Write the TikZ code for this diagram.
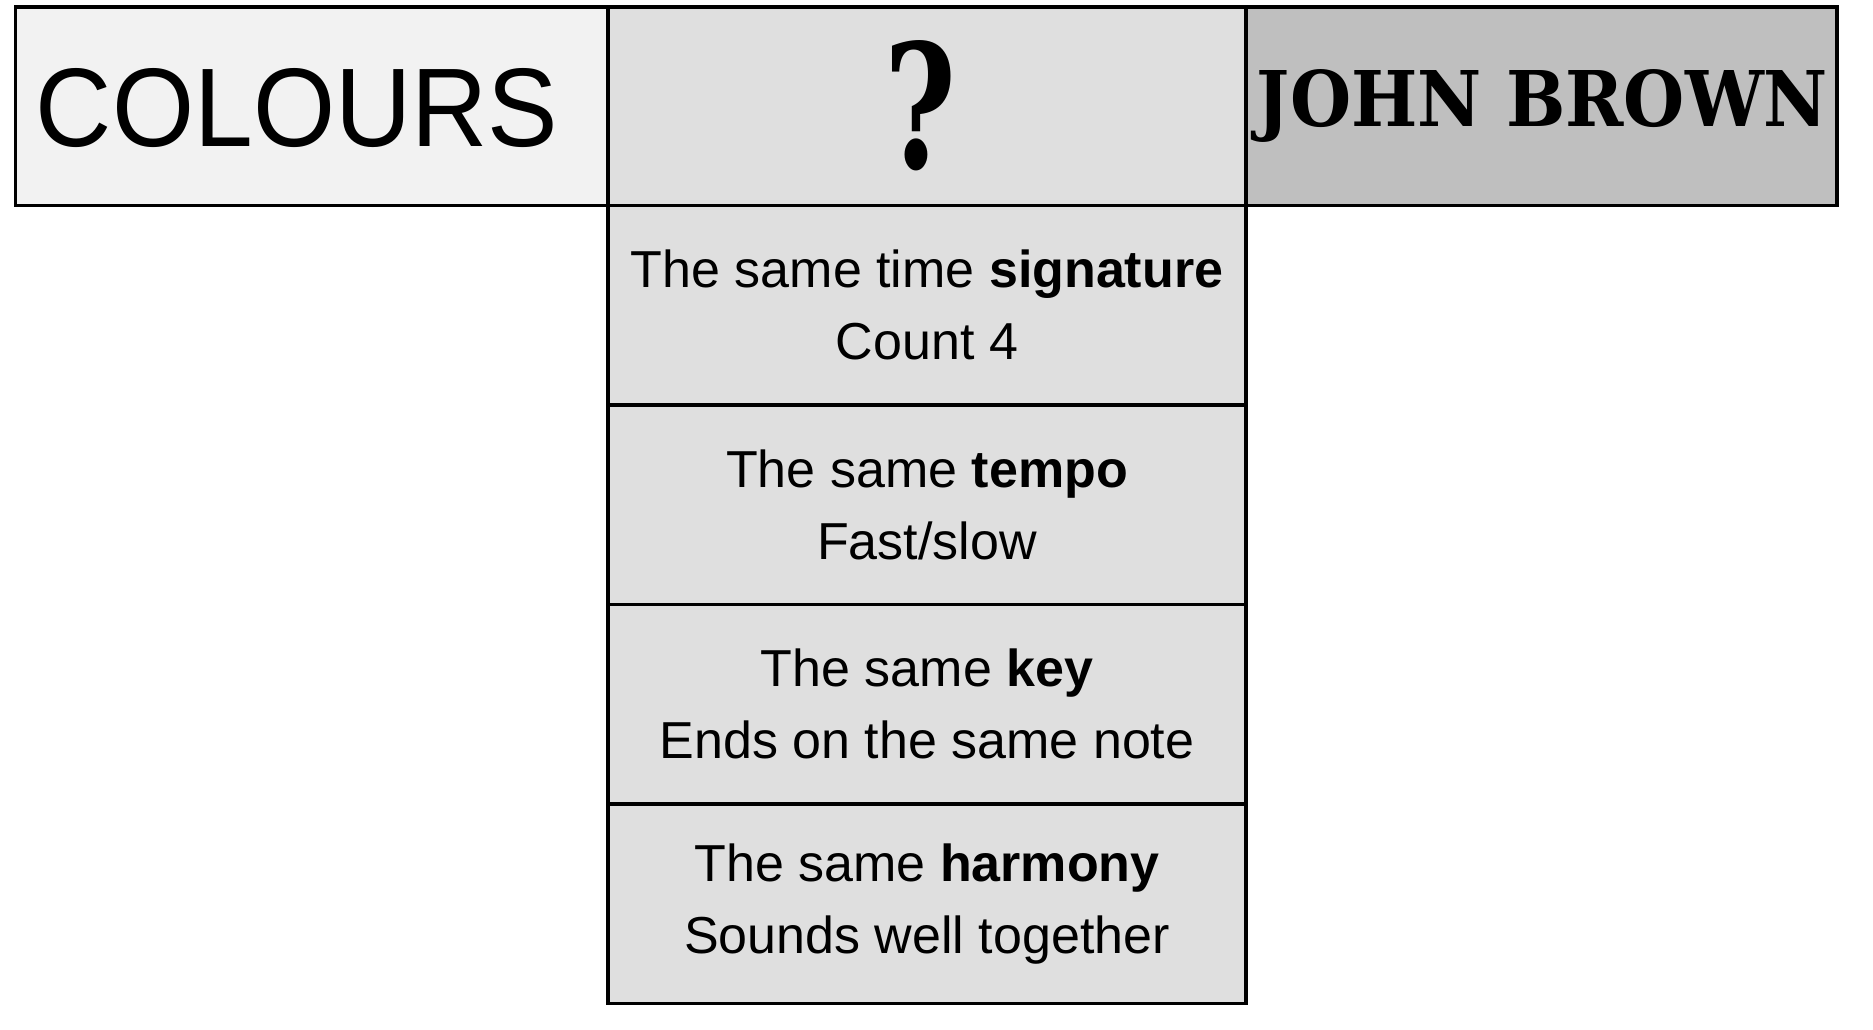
\documentclass[tikz,border=0pt]{standalone}
\usepackage{fontspec}
\usepackage{graphicx}
\setmainfont{Liberation Sans}
\newfontfamily\qfont{DejaVu Serif}
\definecolor{cellA}{HTML}{F2F2F2}
\definecolor{cellB}{HTML}{DFDFDF}
\definecolor{cellC}{HTML}{BFBFBF}
\begin{document}
\begin{tikzpicture}[x=1pt,y=-1pt,
  cellbox/.style={draw=black,line width=3.6pt,rectangle,inner sep=0pt,minimum height=199.5pt},
  bodytext/.style={align=center,font=\fontsize{52pt}{72pt}\selectfont}]
\useasboundingbox (0,0) rectangle (1873,1029);
% top row
\node[cellbox,fill=cellA,minimum width=592.5pt,minimum height=198.5pt] (colours) at (311.75,106.25) {};
\node[cellbox,fill=cellB,minimum width=638pt,minimum height=198.5pt] (question) at (927,106.25) {};
\node[cellbox,fill=cellC,minimum width=591pt,minimum height=198.5pt] (john) at (1541.5,106.25) {};
% column
\node[cellbox,fill=cellB,minimum width=638pt] (r1) at (927,305.25) {};
\node[cellbox,fill=cellB,minimum width=638pt] (r2) at (927,504.7) {};
\node[cellbox,fill=cellB,minimum width=638pt] (r3) at (927,704.15) {};
\node[cellbox,fill=cellB,minimum width=638pt] (r4) at (927,903.65) {};
% texts
\node[inner sep=0pt] (tcolours) at (297,108) {\resizebox{522pt}{78pt}{COLOURS}};
\node[inner sep=0pt] (tq) at (920,106) {\resizebox{72pt}{128pt}{\qfont\bfseries ?}};
\node[inner sep=0pt] (tjohn) at (1542.5,106) {\resizebox{571pt}{57pt}{\qfont\bfseries JOHN BROWN}};
\node[bodytext] (t1) at (r1.center) {The same time \textbf{signature}\\Count 4};
\node[bodytext] (t2) at (r2.center) {The same \textbf{tempo}\\Fast/slow};
\node[bodytext] (t3) at (r3.center) {The same \textbf{key}\\Ends on the same note};
\node[bodytext] (t4) at (r4.center) {The same \textbf{harmony}\\Sounds well together};
\end{tikzpicture}
\end{document}
